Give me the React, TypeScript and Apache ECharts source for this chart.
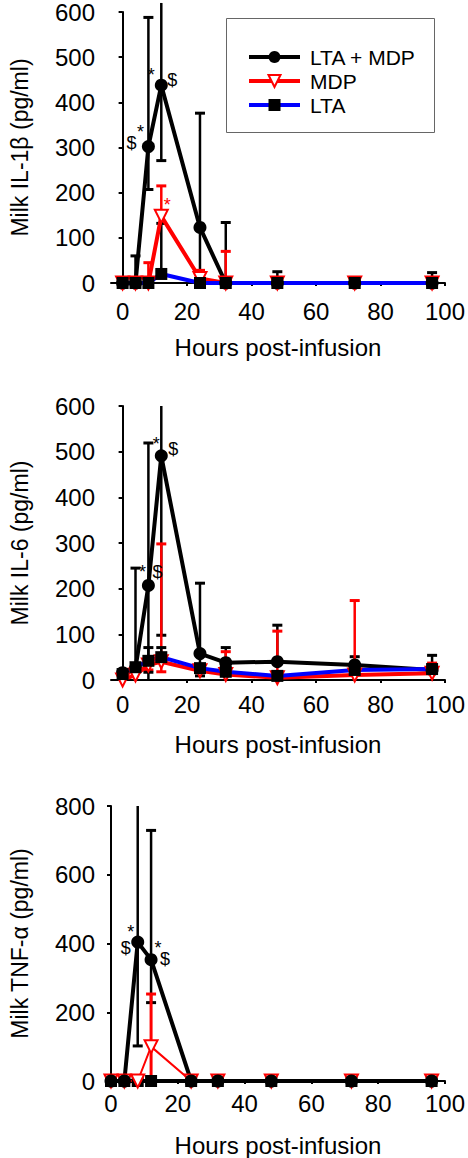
import React, { useEffect, useRef } from "react";
import * as echarts from "echarts";

type Num = number | null;

const FONT = "'Liberation Sans', Arial, Helvetica, sans-serif";

const hours = [0, 4, 8, 12, 24, 32, 48, 72, 96];
const xTickLabels = [0, 20, 40, 60, 80, 100];
const seriesNames = ["LTA + MDP", "MDP", "LTA"];

// Panel 1: Milk IL-1β
const il1bLtaMdp = [0, 0, 302, 438, 123, 0, 0, 0, 0];
const il1bLtaMdpUpper: Num[] = [null, 60, 588, 620, 376, 134, 25, null, 23];
const il1bLtaMdpLower: Num[] = [null, null, 207, 271, 0, null, null, null, null];
const il1bMdp = [0, 0, 0, 148, 10, 0, 0, 0, 0];
const il1bMdpUpper: Num[] = [null, 12, 45, 215, 28, 70, null, null, null];
const il1bMdpLower: Num[] = [null, null, null, null, null, null, null, null, null];
const il1bLta = [0, 0, 0, 20, 0, 0, 0, 0, 0];
const il1bLtaUpper: Num[] = [null, null, null, 132, 15, null, null, null, null];
const il1bLtaLower: Num[] = [null, null, null, null, null, null, null, null, null];

// Panel 2: Milk IL-6
const il6LtaMdp = [16, 26, 207, 491, 58, 38, 40, 33, 22];
const il6LtaMdpUpper: Num[] = [null, 245, 519, 600, 212, 71, 120, 51, 54];
const il6LtaMdpLower: Num[] = [null, 0, 0, 98, 9, null, null, null, null];
const il6Mdp = [0, 11, 33, 40, 20, 12, 5, 11, 15];
const il6MdpUpper: Num[] = [null, null, null, 298, null, 62, 107, 174, 37];
const il6MdpLower: Num[] = [null, null, 22, 18, null, null, null, null, null];
const il6Lta = [13, 28, 42, 50, 26, 18, 9, 22, 24];
const il6LtaUpper: Num[] = [null, null, 71, 71, null, null, null, null, null];
const il6LtaLower: Num[] = [null, null, 17, null, null, null, null, null, null];

// Panel 3: Milk TNF-α
const tnfLtaMdp = [0, 0, 404, 353, 0, 0, 0, 0, 0];
const tnfLtaMdpUpper: Num[] = [null, null, 800, 729, null, null, null, null, null];
const tnfLtaMdpLower: Num[] = [null, null, 102, 228, null, null, null, null, null];
const tnfMdp = [0, 0, 0, 100, 0, 0, 0, 0, 0];
const tnfMdpUpper: Num[] = [null, null, null, 253, null, null, null, null, null];
const tnfMdpLower: Num[] = [null, null, null, 0, null, null, null, null, null];
const tnfLta = [0, 0, 0, 0, 0, 0, 0, 0, 0];
const tnfLtaUpper: Num[] = [null, null, null, null, null, null, null, null, null];
const tnfLtaLower: Num[] = [null, null, null, null, null, null, null, null, null];

// Significance marks: [hour, value, text, colour]
const il1bMarks: [number, number, string, string][] = [
  [8, 302, "$", "#000"],
  [8, 302, "*", "#000"],
  [12, 438, "*", "#000"],
  [12, 438, "$", "#000"],
  [12, 148, "*", "#ff0000"],
];
const il6Marks: [number, number, string, string][] = [
  [8, 207, "*", "#000"],
  [8, 207, "$", "#000"],
  [12, 491, "*", "#000"],
  [12, 491, "$", "#000"],
];
const tnfMarks: [number, number, string, string][] = [
  [8, 404, "*", "#000"],
  [8, 404, "$", "#000"],
  [12, 353, "*", "#000"],
  [12, 353, "$", "#000"],
];
// pixel offsets of each mark from its point
const il1bMarkOffsets = [[-17, -4], [-8, -15], [-10, -10], [11, -5], [6, -11]];
const il6MarkOffsets = [[-6, -13], [9, -13], [-5, -12], [12, -7]];
const tnfMarkOffsets = [[-7, -10], [-12, 6], [7, -12], [14, -1]];

const BLACK = "#000000";
const RED = "#ff0000";
const BLUE = "#0000ff";

function errorSeries(
  g: number,
  values: number[],
  upper: Num[],
  lower: Num[],
  color: string,
  width: number,
  axisMin: number,
  axisMax: number
) {
  const data: number[][] = [];
  hours.forEach((h, i) => {
    const u = upper[i];
    const l = lower[i];
    if (u == null && l == null) return;
    data.push([h, values[i], u == null ? values[i] : u, l == null ? values[i] : l]);
  });
  return {
    type: "custom",
    xAxisIndex: g,
    yAxisIndex: g,
    clip: false,
    silent: true,
    z: 2,
    encode: { x: 0, y: 1 },
    data,
    renderItem: (params: any, api: any) => {
      const x = api.value(0);
      const v = api.value(1);
      const u = api.value(2);
      const l = api.value(3);
      const pu = api.coord([x, u]);
      const pl = api.coord([x, l]);
      const half = 5;
      const children: any[] = [
        {
          type: "line",
          shape: { x1: pu[0], y1: pu[1], x2: pl[0], y2: pl[1] },
          style: { stroke: color, lineWidth: width },
        },
      ];
      if (u > v && u < axisMax) {
        children.push({
          type: "line",
          shape: { x1: pu[0] - half, y1: pu[1], x2: pu[0] + half, y2: pu[1] },
          style: { stroke: color, lineWidth: 3 },
        });
      }
      if (l < v && l > axisMin) {
        children.push({
          type: "line",
          shape: { x1: pl[0] - half, y1: pl[1], x2: pl[0] + half, y2: pl[1] },
          style: { stroke: color, lineWidth: 3 },
        });
      }
      return { type: "group", children };
    },
  };
}

function lineSeries(
  g: number,
  name: string,
  values: number[],
  kind: string,
  width = 4,
  lineColor?: string
) {
  const base: any = {
    type: "line",
    name,
    xAxisIndex: g,
    yAxisIndex: g,
    data: hours.map((h, i) => [h, values[i]]),
    z: 3,
    silent: true,
  };
  if (kind === "ltaMdp") {
    return {
      ...base,
      color: BLACK,
      symbol: "circle",
      symbolSize: 13,
      itemStyle: { color: BLACK },
      lineStyle: { color: lineColor || BLACK, width },
    };
  }
  if (kind === "mdp") {
    return {
      ...base,
      color: RED,
      symbol: "triangle",
      symbolRotate: 180,
      symbolSize: 13,
      itemStyle: { color: "#ffffff", borderColor: RED, borderWidth: 2 },
      lineStyle: { color: lineColor || RED, width },
    };
  }
  return {
    ...base,
    color: BLUE,
    symbol: "rect",
    symbolSize: 12,
    itemStyle: { color: BLACK },
    lineStyle: { color: lineColor || BLUE, width },
  };
}

function markSeries(g: number, marks: [number, number, string, string][], offsets: number[][]) {
  return {
    type: "custom",
    xAxisIndex: g,
    yAxisIndex: g,
    clip: false,
    silent: true,
    z: 5,
    encode: { x: 0, y: 1 },
    data: marks.map((m) => [m[0], m[1]]),
    renderItem: (params: any, api: any) => {
      const m = marks[params.dataIndex];
      const off = offsets[params.dataIndex];
      const p = api.coord([api.value(0), api.value(1)]);
      return {
        type: "text",
        x: p[0] + off[0],
        y: p[1] + off[1],
        style: {
          text: m[2],
          fill: m[3],
          font: `18px ${FONT}`,
          align: "center",
          verticalAlign: "middle",
        },
      };
    },
  };
}

export default function App() {
  const ref = useRef<HTMLDivElement>(null);
  useEffect(() => {
    document.body.style.margin = "0";
    if (!ref.current) return;
    const chart = echarts.init(ref.current, undefined, { renderer: "svg" });

    const axisLineStyle = { color: "#000", width: 2 };
    const mkX = (g: number, min: number, margin: number) => ({
      type: "value",
      gridIndex: g,
      min,
      max: 100,
      axisLine: { show: true, onZero: false, lineStyle: axisLineStyle },
      axisTick: {
        show: true,
        length: 3,
        lineStyle: { color: "#000", width: 2 },
        customValues: xTickLabels,
      },
      axisLabel: {
        customValues: xTickLabels,
        fontSize: 24,
        color: "#000",
        fontFamily: FONT,
        margin,
      },
      splitLine: { show: false },
      name: "Hours post-infusion",
      nameLocation: "middle",
      nameGap: 52,
      nameTextStyle: { fontSize: 24, color: "#000", fontFamily: FONT },
    });
    const mkY = (g: number, max: number, interval: number, name: string) => ({
      type: "value",
      gridIndex: g,
      min: 0,
      max,
      interval,
      axisLine: { show: true, lineStyle: axisLineStyle },
      axisTick: { show: true, length: 4, lineStyle: { color: "#000", width: 2 } },
      axisLabel: { fontSize: 24, color: "#000", fontFamily: FONT, margin: 16 },
      splitLine: { show: false },
      name,
      nameLocation: "middle",
      nameGap: 80,
      nameTextStyle: { fontSize: 23, color: "#000", fontFamily: FONT },
    });

    const option: any = {
      animation: false,
      backgroundColor: "#ffffff",
      grid: [
        { left: 105, width: 343, top: 8, height: 275 },
        { left: 105, width: 343, top: 406, height: 274 },
        { left: 105, width: 343, top: 806, height: 275 },
      ],
      xAxis: [mkX(0, -3.6, 16), mkX(1, -3.6, 12), mkX(2, 0, 10)],
      yAxis: [
        mkY(0, 600, 100, "Milk IL-1β (pg/ml)"),
        mkY(1, 600, 100, "Milk IL-6 (pg/ml)"),
        mkY(2, 800, 200, "Milk TNF-α (pg/ml)"),
      ],
      legend: {
        data: seriesNames,
        orient: "vertical",
        left: 242,
        top: 40,
        itemWidth: 51,
        itemHeight: 15,
        itemGap: 0,
        selectedMode: false,
        lineStyle: { width: 4 },
        textStyle: { fontSize: 21, lineHeight: 24, color: "#000", fontFamily: FONT, padding: [0, 0, 0, 5] },
      },
      graphic: [
        {
          type: "rect",
          left: 226,
          top: 18,
          z: 0,
          shape: { width: 208, height: 114 },
          style: { fill: "transparent", stroke: "#666", lineWidth: 1 },
        },
      ],
      series: [
        // Panel 1
        errorSeries(0, il1bLtaMdp, il1bLtaMdpUpper, il1bLtaMdpLower, BLACK, 2.5, 0, 600),
        errorSeries(0, il1bMdp, il1bMdpUpper, il1bMdpLower, RED, 2.5, 0, 600),
        errorSeries(0, il1bLta, il1bLtaUpper, il1bLtaLower, BLACK, 2.5, 0, 600),
        lineSeries(0, seriesNames[0], il1bLtaMdp, "ltaMdp"),
        lineSeries(0, seriesNames[1], il1bMdp, "mdp"),
        lineSeries(0, seriesNames[2], il1bLta, "lta"),
        markSeries(0, il1bMarks, il1bMarkOffsets),
        // Panel 2
        errorSeries(1, il6LtaMdp, il6LtaMdpUpper, il6LtaMdpLower, BLACK, 2.5, 0, 600),
        errorSeries(1, il6Mdp, il6MdpUpper, il6MdpLower, RED, 2.5, 0, 600),
        errorSeries(1, il6Lta, il6LtaUpper, il6LtaLower, BLACK, 2.5, 0, 600),
        lineSeries(1, seriesNames[0], il6LtaMdp, "ltaMdp"),
        lineSeries(1, seriesNames[1], il6Mdp, "mdp"),
        lineSeries(1, seriesNames[2], il6Lta, "lta"),
        markSeries(1, il6Marks, il6MarkOffsets),
        // Panel 3
        errorSeries(2, tnfLtaMdp, tnfLtaMdpUpper, tnfLtaMdpLower, BLACK, 2.5, 0, 800),
        errorSeries(2, tnfMdp, tnfMdpUpper, tnfMdpLower, RED, 3, 0, 800),
        errorSeries(2, tnfLta, tnfLtaUpper, tnfLtaLower, BLACK, 2.5, 0, 800),
        lineSeries(2, seriesNames[2], tnfLta, "lta", 4, BLACK),
        lineSeries(2, seriesNames[1], tnfMdp, "mdp", 2),
        lineSeries(2, seriesNames[0], tnfLtaMdp, "ltaMdp"),
        markSeries(2, tnfMarks, tnfMarkOffsets),
      ],
    };
    chart.setOption(option);
    return () => chart.dispose();
  }, []);
  return (
    <div
      ref={ref}
      style={{ position: "absolute", left: 0, top: 0, width: 468, height: 1158, background: "#fff" }}
    />
  );
}
